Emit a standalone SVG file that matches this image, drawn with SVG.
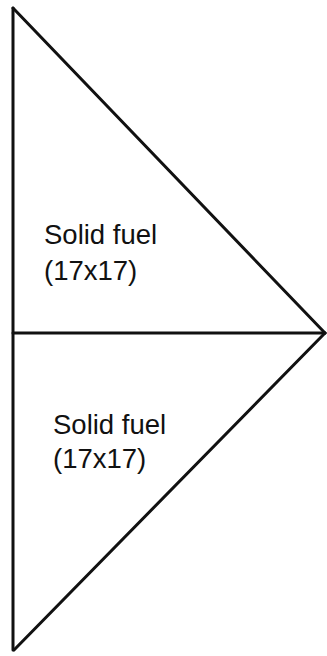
<svg xmlns="http://www.w3.org/2000/svg" width="327" height="656" viewBox="0 0 327 656">
<style>
.ln{stroke:#111;stroke-width:3;fill:none;stroke-linecap:round;stroke-linejoin:round}
.t{font-family:"Liberation Sans",Arial,sans-serif;font-size:27.5px;fill:#111}
</style>
<rect width="327" height="656" fill="#fff"/>
<g id="connectors">
<path class="ln" d="M13 8 L13 650"/>
<path class="ln" d="M13 8 L325 333"/>
<path class="ln" d="M13 333 L325 333"/>
<path class="ln" d="M325 333 L14 650"/>
</g>
<g id="top-region">
<text class="t" x="44" y="244">Solid fuel</text>
<text class="t" x="44" y="280">(17x17)</text>
</g>
<g id="bottom-region">
<text class="t" x="53" y="434">Solid fuel</text>
<text class="t" x="53" y="468">(17x17)</text>
</g>
</svg>
